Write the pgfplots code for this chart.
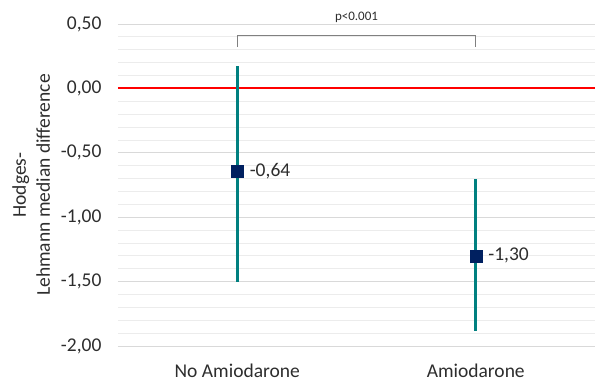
\documentclass[border=0pt]{standalone}
\usepackage{pgfplots}
\pgfplotsset{compat=1.18}
\usepackage{fontspec}
\setmainfont{Carlito}
\definecolor{errteal}{RGB}{0,128,128}
\definecolor{mknavy}{RGB}{0,32,96}
\definecolor{txtgray}{RGB}{45,45,45}
\definecolor{majgrid}{RGB}{217,217,217}
\definecolor{mingrid}{RGB}{236,236,236}
\begin{document}
\begin{tikzpicture}
\begin{axis}[
  scale only axis, width=477pt, height=322pt,
  xmin=-0.5, xmax=1.5, ymin=-2, ymax=0.5,
  clip=false,
  axis line style={draw=none},
  xtick={0,1}, xticklabels={No Amiodarone, Amiodarone},
  ytick={-2,-1.5,-1,-0.5,0,0.5},
  minor y tick num=4,
  major tick length=0pt, minor tick length=0pt,
  ymajorgrids, yminorgrids,
  major grid style={majgrid, line width=0.8pt},
  minor grid style={mingrid, line width=0.8pt},
  font=\fontsize{19.5}{23}\selectfont,
  tick label style={txtgray},
  yticklabel style={xshift=-13pt, /pgf/number format/fixed, /pgf/number format/fixed zerofill, /pgf/number format/precision=2, /pgf/number format/use comma, /pgf/number format/assume math mode=true},
  xticklabel style={yshift=-14pt},
  ylabel={Hodges-\\Lehmann median difference},
  ylabel style={align=center, txtgray, font=\fontsize{19.5}{24}\selectfont, at={(axis description cs:-0.135,0.5)}, anchor=south},
]
\addplot[red, line width=2pt, forget plot] coordinates {(-0.5,0) (1.5,0)};
\addplot[draw=none, mark=none, forget plot,
  error bars/.cd, y dir=both, y explicit,
  error bar style={errteal, line width=3pt}, error mark=none]
  coordinates {
    (0,-0.64) += (0,0.81) -= (0,0.86)
    (1,-1.30) += (0,0.60) -= (0,0.58)
  };
\addplot[only marks, mark=square*, mark size=6pt, mark options={fill=mknavy, draw=mknavy},
  point meta=explicit symbolic,
  nodes near coords, nodes near coords align={anchor=west},
  every node near coord/.append style={anchor=west, xshift=9pt, txtgray, font=\fontsize{19.5}{23}\selectfont}]
  coordinates {(0,-0.64) [-0,64] (1,-1.30) [-1,30]};
\addplot[gray, line width=1pt, forget plot] coordinates {(0,0.32) (0,0.41) (1,0.41) (1,0.32)};
\node[txtgray, font=\fontsize{13}{15}\selectfont, anchor=base] at (axis cs:0.5,0.53) {p<0.001};
\end{axis}
\pgfresetboundingbox
\useasboundingbox ([xshift=-118pt,yshift=-41pt]current axis.south west) rectangle ([yshift=24pt]current axis.north east);
\end{tikzpicture}
\end{document}
